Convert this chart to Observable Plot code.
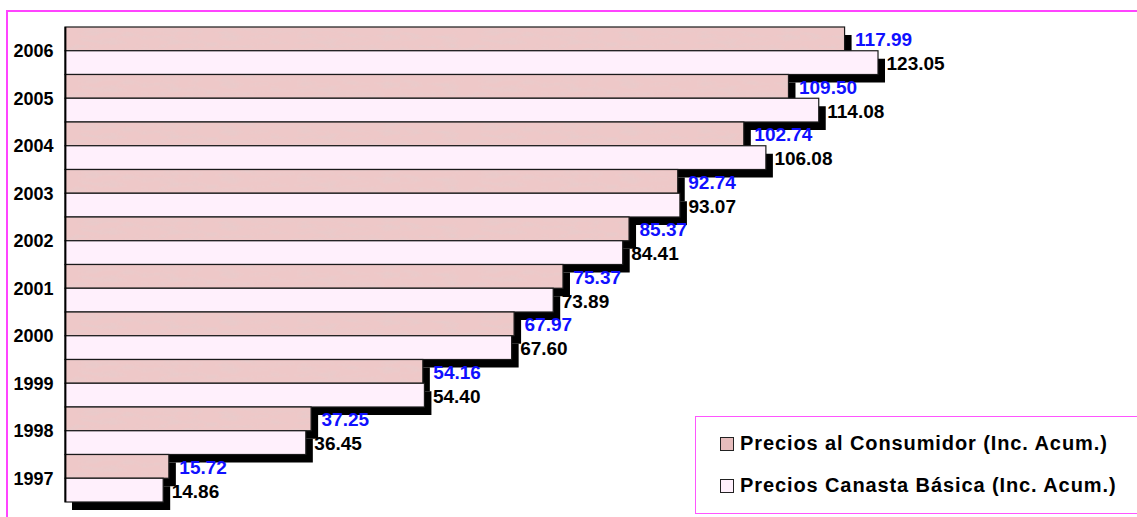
<!DOCTYPE html>
<html>
<head>
<meta charset="utf-8">
<script src="https://cdn.jsdelivr.net/npm/d3@7"></script>
<script src="https://cdn.jsdelivr.net/npm/@observablehq/plot@0.6"></script>
<style>
  html, body { margin: 0; padding: 0; background: #fff; }
  #wrap { position: relative; width: 1137px; height: 517px; overflow: hidden; font-family: "Liberation Sans", Arial, sans-serif; }
  #frame { position: absolute; left: 6px; top: 10px; width: 1300px; height: 700px; border-left: 2px solid #ff44ff; border-top: 2px solid #ff44ff; }
  #chart { position: absolute; left: 0; top: 0; }
  #legend { position: absolute; left: 695px; top: 416px; width: 480px; height: 96px; border: 1.5px solid #ff55ff; background: #fff; }
  .item { position: absolute; left: 24px; display: flex; align-items: center; font-weight: bold; font-size: 20px; letter-spacing: 0.9px; color: #000; white-space: nowrap; }
  .sw { width: 12px; height: 12px; border: 1.2px solid #222; margin-right: 6px; }
</style>
</head>
<body>
<div id="wrap">
  <div id="frame"></div>
  <div id="chart"></div>
  <div id="legend"></div>
</div>
<script>
const years = ["2006","2005","2004","2003","2002","2001","2000","1999","1998","1997"];
const consumidor = [117.99,109.50,102.74,92.74,85.37,75.37,67.97,54.16,37.25,15.72];
const canasta = [123.05,114.08,106.08,93.07,84.41,73.89,67.60,54.40,36.45,14.86];
const seriesNames = ["Precios al Consumidor (Inc. Acum.)", "Precios Canasta Básica (Inc. Acum.)"];
const seriesColors = ["url(#tex)", "#fff0fc"];
const labelColors = ["#1010ff", "#000000"];

const data = [];
years.forEach((yr, i) => {
  data.push({year: yr, serie: seriesNames[0], value: consumidor[i]});
  data.push({year: yr, serie: seriesNames[1], value: canasta[i]});
});

const FONT = "Liberation Sans, Arial, sans-serif";
const chart = Plot.plot({
  width: 1137,
  height: 517,
  marginTop: 27,
  marginBottom: 15,
  marginLeft: 65,
  marginRight: 147,
  style: {background: "transparent", overflow: "visible"},
  x: {domain: [0, 140], axis: null},
  y: {domain: seriesNames, padding: 0, round: false, axis: null},
  fy: {domain: years, padding: 0, round: false, label: null, axis: null},
  marks: [
    Plot.barX(data, {fy: "year", y: "serie", x: "value", fill: "#000", dx: 7, dy: 8, inset: 0}),
    Plot.barX(data, {fy: "year", y: "serie", x: "value", fill: d => seriesColors[seriesNames.indexOf(d.serie)], stroke: "#1a1a1a", strokeWidth: 1.2, inset: 0}),
    Plot.ruleX([0], {stroke: "#000", strokeWidth: 1.8}),
    Plot.text(data.filter(d => d.serie === seriesNames[0]), {fy: "year", y: "serie", x: "value", text: d => d.value.toFixed(2), textAnchor: "start", dx: 10, dy: 1, fill: labelColors[0], fontWeight: "bold", fontSize: 19, fontFamily: FONT}),
    Plot.text(data.filter(d => d.serie === seriesNames[1]), {fy: "year", y: "serie", x: "value", text: d => d.value.toFixed(2), textAnchor: "start", dx: 8, dy: 1, fill: labelColors[1], fontWeight: "bold", fontSize: 19, fontFamily: FONT}),
    Plot.axisFy({anchor: "left", tickSize: 0, tickPadding: 12, label: null, fontSize: 18, fontWeight: "bold", fontFamily: FONT, fill: "#000"})
  ]
});

// texture pattern for the consumer-price bars
const ns = "http://www.w3.org/2000/svg";
const defs = document.createElementNS(ns, "defs");
defs.innerHTML = `
  <filter id="noise" x="0" y="0" width="100%" height="100%">
    <feTurbulence type="fractalNoise" baseFrequency="0.05 0.2" numOctaves="3" seed="4" result="t"/>
    <feColorMatrix in="t" type="matrix" values="0 0 0 0 0.80  0 0 0 0 0.60  0 0 0 0 0.60  2.2 0 0 0 -1.0"/>
  </filter>
  <pattern id="tex" patternUnits="userSpaceOnUse" width="400" height="48">
    <rect width="400" height="48" fill="#eec8c8"/>
    <rect width="400" height="48" fill="#000" filter="url(#noise)"/>
  </pattern>`;
chart.insertBefore(defs, chart.firstChild);
document.getElementById("chart").appendChild(chart);

// legend
const legend = document.getElementById("legend");
const legendFills = ["#e6bcbc", "#fff0fc"];
seriesNames.forEach((name, i) => {
  const it = document.createElement("div");
  it.className = "item";
  it.style.top = (i === 0 ? 15 : 57) + "px";
  const sw = document.createElement("div");
  sw.className = "sw";
  sw.style.background = legendFills[i];
  const tx = document.createElement("span");
  tx.textContent = name;
  it.appendChild(sw);
  it.appendChild(tx);
  legend.appendChild(it);
});
</script>
</body>
</html>
